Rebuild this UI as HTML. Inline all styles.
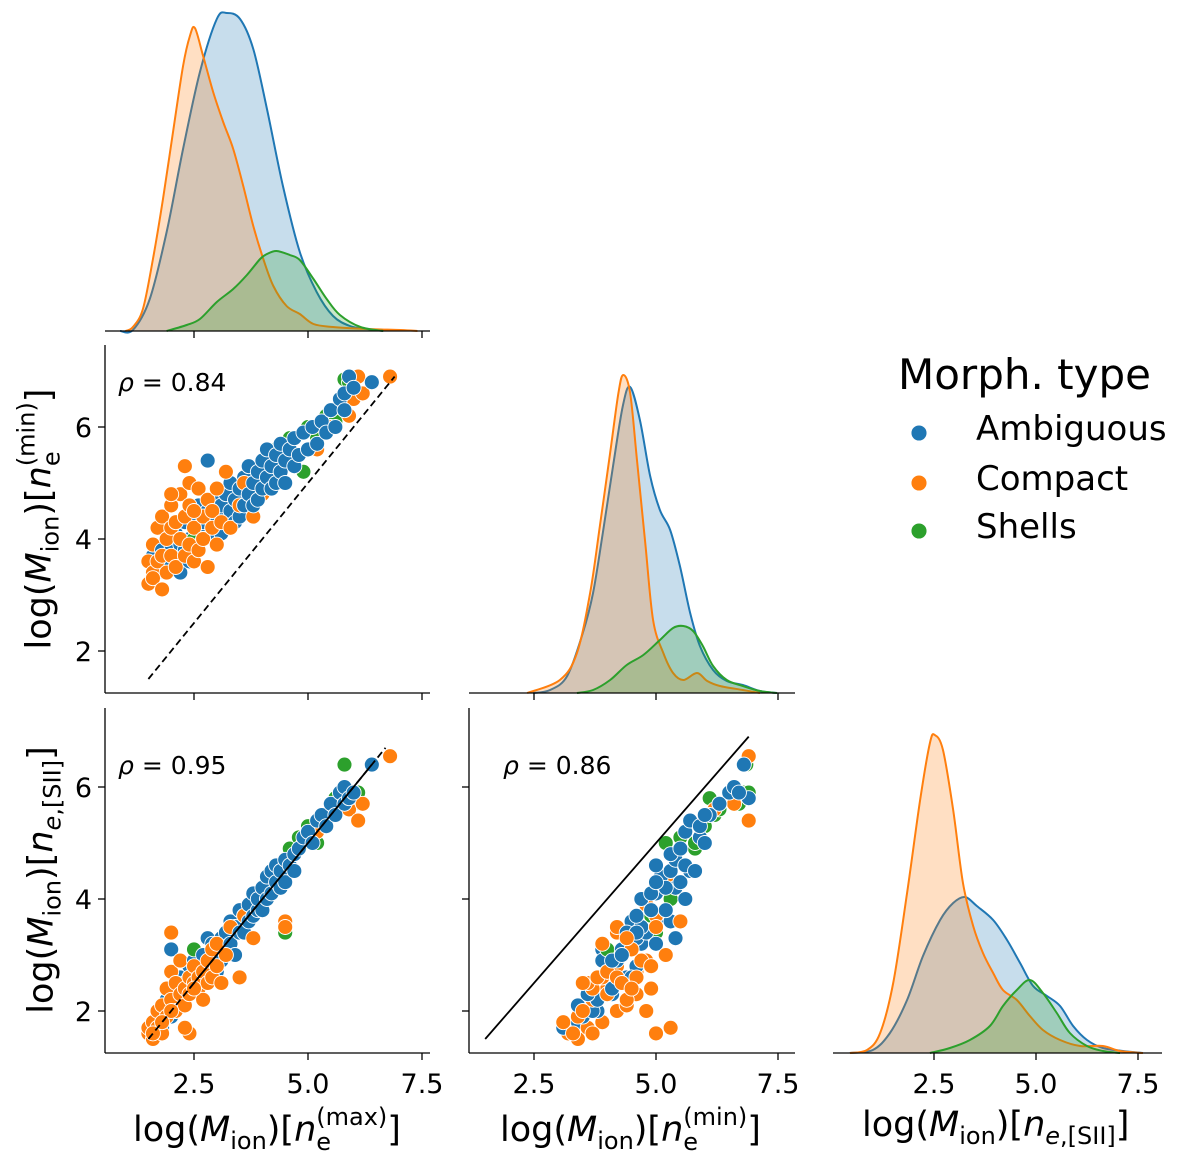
<!DOCTYPE html>
<html><head><meta charset="utf-8">
<style>
html,body{margin:0;padding:0;background:#fff;}
#wrap{position:relative;width:1200px;height:1170px;overflow:hidden;font-family:"DejaVu Sans","Liberation Sans",sans-serif;color:#000;}
svg{position:absolute;left:0;top:0;}
.lab{position:absolute;font-size:35px;white-space:nowrap;line-height:1;}
.lab i{font-style:italic;}
.lab sub{font-size:24px;vertical-align:-8px;line-height:0;}
.st{display:inline-block;position:relative;}
.st .sp{font-size:24px;position:relative;top:-16px;}
.st .sb{font-size:24px;position:absolute;left:0;top:17px;}
</style></head>
<body>
<div id="wrap">
<svg id="chart" width="1200" height="1170"></svg>

<div class="lab" style="left:133px;top:1113px;">log(<i>M</i><sub>ion</sub>)[<i>n</i><span class="st"><span class="sp">(max)</span><span class="sb">e</span></span>]</div>
<div class="lab" style="left:500px;top:1113px;">log(<i>M</i><sub>ion</sub>)[<i>n</i><span class="st"><span class="sp">(min)</span><span class="sb">e</span></span>]</div>
<div class="lab" style="left:862px;top:1108px;">log(<i>M</i><sub>ion</sub>)[<i>n</i><sub><i>e</i>,[SII]</sub>]</div>
<div class="lab" style="left:40px;top:519px;transform:translate(-50%,-50%) rotate(-90deg);">log(<i>M</i><sub>ion</sub>)[<i>n</i><span class="st"><span class="sp">(min)</span><span class="sb">e</span></span>]</div>
<div class="lab" style="left:42px;top:880px;transform:translate(-50%,-50%) rotate(-90deg);">log(<i>M</i><sub>ion</sub>)[<i>n</i><sub><i>e</i>,[SII]</sub>]</div>
</div>

<script>
// ---------- data ----------
const categories = ["Ambiguous","Compact","Shells"];
const colors = ["#1f77b4","#ff7f0e","#2ca02c"];
// triplets: [log M (n_e max), log M (n_e min), log M (n_e SII)]
const ambiguousPts = [[1.6,3.5,1.7],[1.6,3.7,1.6],[1.7,3.4,1.8],[1.8,3.1,1.7],[1.8,3.8,2.0],[1.9,3.6,2.2],[2.0,3.9,3.1],[2.0,3.5,1.9],[2.1,4.1,2.3],[2.1,3.7,2.0],[2.2,3.9,2.6],[2.2,3.4,2.1],[2.3,4.3,2.5],[2.3,3.8,2.2],[2.4,4.0,2.8],[2.4,3.6,2.3],[2.5,4.4,2.6],[2.5,3.9,2.9],[2.6,4.1,2.4],[2.6,4.6,2.8],[2.7,4.0,2.7],[2.7,4.3,3.0],[2.8,5.4,3.3],[2.8,4.5,2.6],[2.9,4.2,2.9],[2.9,4.7,3.2],[3.0,4.4,3.1],[3.0,4.0,2.7],[3.1,4.6,3.3],[3.1,4.1,2.9],[3.2,4.8,3.4],[3.2,4.3,3.1],[3.3,4.5,3.6],[3.3,5.0,3.2],[3.4,4.7,3.5],[3.4,4.3,3.0],[3.5,4.9,3.8],[3.5,4.4,3.4],[3.6,5.1,3.7],[3.6,4.6,3.4],[3.7,4.8,3.9],[3.7,5.3,3.6],[3.8,4.6,3.7],[3.8,5.0,4.1],[3.9,5.2,3.8],[3.9,4.7,4.0],[4.0,5.4,4.2],[4.0,4.9,3.8],[4.1,5.1,4.4],[4.1,5.6,4.0],[4.2,4.9,4.1],[4.2,5.3,4.5],[4.3,5.5,4.3],[4.3,5.0,4.6],[4.4,5.2,4.2],[4.4,5.7,4.5],[4.5,5.4,4.7],[4.5,5.0,4.3],[4.6,5.6,4.6],[4.7,5.3,4.8],[4.7,5.8,4.5],[4.8,5.5,4.9],[4.9,5.9,5.1],[5.0,5.6,5.2],[5.1,6.0,5.0],[5.2,5.7,5.4],[5.3,6.1,5.5],[5.4,5.9,5.3],[5.5,6.3,5.7],[5.6,6.0,5.5],[5.7,6.5,5.9],[5.8,6.6,6.0],[5.8,6.3,5.7],[5.9,6.9,5.8],[6.0,6.7,5.9],[6.4,6.8,6.4]];
const compactPts = [[1.5,3.2,1.6],[1.5,3.6,1.7],[1.6,3.9,1.8],[1.6,3.4,1.5],[1.7,4.2,2.0],[1.7,3.6,1.7],[1.8,3.7,1.6],[1.8,4.4,2.1],[1.9,3.4,1.9],[1.9,4.0,2.4],[2.0,4.6,2.7],[2.0,3.7,2.2],[2.0,4.2,3.4],[2.1,4.3,2.5],[2.1,3.5,2.0],[2.2,4.0,2.3],[2.2,4.8,2.9],[2.3,3.7,2.4],[2.3,4.4,2.1],[2.4,3.9,2.6],[2.4,4.6,2.3],[2.4,5.0,1.6],[2.5,3.6,2.5],[2.5,4.2,2.8],[2.6,4.9,2.4],[2.6,3.8,2.6],[2.7,4.4,2.2],[2.7,4.0,2.7],[2.8,3.5,2.5],[2.8,4.7,2.9],[2.9,4.2,2.6],[2.9,4.5,3.1],[3.0,3.9,3.2],[3.0,4.9,2.8],[3.1,4.3,2.5],[3.2,5.2,3.0],[3.3,4.2,3.5],[3.5,4.6,2.6],[3.6,5.0,3.7],[3.8,4.4,3.3],[4.0,4.8,3.9],[4.2,5.3,4.3],[4.5,5.5,3.6],[4.5,5.0,3.5],[5.2,5.6,5.2],[5.5,6.0,5.5],[5.9,6.2,5.6],[6.0,6.5,5.9],[6.2,6.6,5.7],[6.8,6.9,6.55],[2.3,5.3,1.7],[1.6,3.3,1.6],[2.0,4.8,2.0],[2.5,4.5,2.4],[1.8,3.1,1.8],[6.1,6.9,5.4]];
const shellsPts = [[4.0,5.3,4.0],[4.3,5.6,4.6],[4.5,5.0,3.4],[4.6,5.8,4.9],[4.8,5.5,5.1],[5.0,6.0,5.3],[5.2,5.8,5.0],[5.4,6.2,5.5],[5.5,6.3,5.6],[5.6,6.1,5.8],[5.8,6.85,6.4],[5.9,6.8,5.9],[6.0,6.7,5.7],[6.1,6.9,5.9],[2.7,4.6,2.8],[3.5,4.9,3.7],[4.4,5.4,4.2],[4.9,5.2,5.0],[2.5,4.0,3.1]];
// KDE curves (x grid, density)
const kdeMaxX = [[0.88,1.16,1.53,1.9,2.26,2.63,3.0,3.22,3.51,3.8,4.1,4.45,4.82,5.19,5.55,5.92,6.3,6.65],[1.0,1.16,1.38,1.6,1.82,2.04,2.26,2.41,2.52,2.7,2.92,3.14,3.36,3.58,3.8,4.02,4.24,4.53,4.82,5.12,5.55,6.3,7.03,7.4],[1.9,2.34,2.63,3.0,3.36,3.66,3.95,4.1,4.31,4.6,4.82,5.12,5.41,5.7,6.15,6.65]];
const kdeMaxD = [[0,0.01,0.32,0.99,1.82,2.59,3.12,3.18,3.12,2.82,2.22,1.45,0.79,0.39,0.15,0.05,0.02,0],[0,0.04,0.22,0.72,1.32,1.99,2.65,2.95,3.03,2.75,2.39,2.09,1.82,1.45,1.05,0.72,0.45,0.25,0.17,0.07,0.04,0.02,0.01,0],[0,0.06,0.12,0.29,0.42,0.56,0.72,0.77,0.80,0.76,0.71,0.52,0.32,0.16,0.04,0]];
const kdeMinX = [[2.48,2.83,3.18,3.5,3.71,3.91,4.12,4.32,4.47,4.67,4.88,5.08,5.29,5.49,5.7,5.9,6.17,6.45,6.78,7.13,7.48],[2.36,3.03,3.38,3.65,3.85,4.06,4.23,4.33,4.47,4.61,4.78,4.94,5.15,5.35,5.56,5.84,6.05,6.31,6.78,7.13],[3.38,3.71,4.06,4.4,4.74,5.08,5.35,5.56,5.76,5.96,6.17,6.45,6.78,7.13,7.48]];
const kdeMinD = [[0,0.03,0.17,0.60,1.00,1.60,2.27,2.87,3.06,2.73,2.17,1.83,1.63,1.27,0.80,0.47,0.23,0.12,0.08,0.02,0],[0,0.13,0.40,1.00,1.67,2.40,3.00,3.18,3.00,2.33,1.50,0.73,0.40,0.20,0.13,0.20,0.12,0.07,0.03,0],[0,0.03,0.13,0.28,0.38,0.53,0.65,0.67,0.62,0.47,0.27,0.13,0.07,0.02,0]];
const kdeSiiX = [[0.44,1.0,1.42,1.84,2.23,2.65,2.97,3.26,3.55,3.95,4.29,4.61,4.93,5.27,5.59,5.91,6.25,6.64,7.13,7.62],[0.44,0.86,1.18,1.5,1.84,2.16,2.4,2.52,2.72,2.97,3.21,3.46,3.7,3.95,4.19,4.53,4.85,5.17,5.59,6.08,6.64,7.06,7.62],[2.4,2.89,3.38,3.87,4.19,4.53,4.85,5.17,5.51,5.83,6.25,6.64,7.06]];
const kdeSiiD = [[0,0.03,0.20,0.53,0.97,1.33,1.50,1.56,1.47,1.33,1.13,0.90,0.67,0.57,0.47,0.27,0.13,0.05,0.02,0],[0,0.03,0.20,0.70,1.60,2.53,3.10,3.18,3.03,2.43,1.70,1.27,1.00,0.80,0.63,0.53,0.37,0.23,0.13,0.07,0.07,0.02,0],[0,0.05,0.13,0.27,0.47,0.63,0.73,0.60,0.40,0.20,0.07,0.02,0]];
const xTicks = [2.5,5.0,7.5];
const xTickLabels = ["2.5","5.0","7.5"];
const yTicks = [2,4,6];
const yTickLabels = ["2","4","6"];
const rhoValues = ["0.84","0.95","0.86"];

// ---------- scales ----------
const colX = [v=>80+45.6*v, v=>412+48.8*v, v=>832+40.8*v];
const rowY = [null, v=>763-56*v, v=>1123-56*v];
const kdeBase = [331,693,1053];
const kdeScale = d=>d*100;

const NS="http://www.w3.org/2000/svg";
const svg=document.getElementById('chart');
function mk(tag,attrs,parent){const e=document.createElementNS(NS,tag);for(const k in attrs)e.setAttribute(k,attrs[k]);(parent||svg).appendChild(e);return e;}

function smoothPath(pts){
  let d=`M${pts[0][0]},${pts[0][1]}`;
  for(let i=0;i<pts.length-1;i++){
    const p0=pts[Math.max(0,i-1)],p1=pts[i],p2=pts[i+1],p3=pts[Math.min(pts.length-1,i+2)];
    const c1=[p1[0]+(p2[0]-p0[0])/6,p1[1]+(p2[1]-p0[1])/6];
    const c2=[p2[0]-(p3[0]-p1[0])/6,p2[1]-(p3[1]-p1[1])/6];
    d+=` C${c1[0]},${c1[1]} ${c2[0]},${c2[1]} ${p2[0]},${p2[1]}`;
  }
  return d;
}

// ---------- axes ----------
function xAxis(col,y,x0,x1,labels,name){
  const g=mk('g',{});
  
  
  mk('line',{x1:x0,y1:y,x2:x1,y2:y,stroke:'#000','stroke-width':1.3},g);
  xTicks.forEach((t,i)=>{
    const x=colX[col](t);
    mk('line',{x1:x,y1:y,x2:x,y2:y+7,stroke:'#000','stroke-width':1.3},g);
    if(labels){const tx=mk('text',{x:x,y:y+40,'text-anchor':'middle','font-size':27},g);tx.textContent=xTickLabels[i];}
  });
}
function yAxis(row,x,y0,y1,labels,name){
  const g=mk('g',{});
  
  
  mk('line',{x1:x,y1:y0,x2:x,y2:y1,stroke:'#000','stroke-width':1.3},g);
  yTicks.forEach((t,i)=>{
    const y=rowY[row](t);
    mk('line',{x1:x-7,y1:y,x2:x,y2:y,stroke:'#000','stroke-width':1.3},g);
    if(labels){const tx=mk('text',{x:x-13,y:y+10,'text-anchor':'end','font-size':27},g);tx.textContent=yTickLabels[i];}
  });
}

// ---------- KDEs ----------
function kde(col,X,D,name){
  const g=mk('g',{});
  
  
  const base=kdeBase[col];
  for(let s=0;s<3;s++){
    const pts=X[s].map((x,i)=>[colX[col](x),base-kdeScale(D[s][i])]);
    const line=smoothPath(pts);
    const area=mk('path',{d:line+` L${pts[pts.length-1][0]},${base} L${pts[0][0]},${base} Z`,fill:colors[s],'fill-opacity':0.25,stroke:'none'},g);
    
    
    const ln=mk('path',{d:line,fill:'none',stroke:colors[s],'stroke-width':2},g);
    
    
  }
}
kde(0,kdeMaxX,kdeMaxD,'kde-max-panel');
kde(1,kdeMinX,kdeMinD,'kde-min-panel');
kde(2,kdeSiiX,kdeSiiD,'kde-sii-panel');

// ---------- scatters ----------
const series=[ambiguousPts,compactPts,shellsPts];
function scatter(col,xi,row,yi,name){
  const g=mk('g',{});
  
  
  const n=Math.max(...series.map(s=>s.length));
  for(let i=0;i<n;i++){
    for(let s=0;s<3;s++){
      const p=series[s][i]; if(!p) continue;
      const c=mk('circle',{cx:colX[col](p[xi]),cy:rowY[row](p[yi]),r:7.5,fill:colors[s],stroke:'#fff','stroke-width':0.9},g);
      
      
    }
  }
}
scatter(0,0,1,1,'scatter-max-vs-min');
scatter(0,0,2,2,'scatter-max-vs-sii');
scatter(1,1,2,2,'scatter-min-vs-sii');

// reference lines
const refLo=1.5, refHi=6.9, refHi2=6.7;
const r1=mk('line',{x1:colX[0](refLo),y1:rowY[1](refLo),x2:colX[0](refHi),y2:rowY[1](refHi),stroke:'#000','stroke-width':1.8,'stroke-dasharray':'7,4'});


const r2=mk('line',{x1:colX[0](refLo),y1:rowY[2](refLo),x2:colX[0](refHi2),y2:rowY[2](refHi2),stroke:'#000','stroke-width':1.8,'stroke-dasharray':'7,4'});


const r2b=mk('line',{x1:colX[0](2.4),y1:rowY[2](2.4),x2:colX[0](6.4),y2:rowY[2](6.4),stroke:'#000','stroke-width':1.8});


const r3=mk('line',{x1:colX[1](refLo),y1:rowY[2](refLo),x2:colX[1](refHi),y2:rowY[2](refHi),stroke:'#000','stroke-width':1.8});



// axes
xAxis(0,331,105,430,false,'x-axis-kde-max');
xAxis(1,693,469,795,false,'x-axis-kde-min');
xAxis(2,1053,833,1162,true,'x-axis-kde-sii');
xAxis(0,693,105,430,false,'x-axis-scatter-max-min');
xAxis(0,1053,105,430,true,'x-axis-scatter-max-sii');
xAxis(1,1053,469,795,true,'x-axis-scatter-min-sii');
yAxis(1,105,345,693,true,'y-axis-scatter-max-min');
yAxis(2,105,708,1053,true,'y-axis-scatter-max-sii');
yAxis(2,469,708,1053,false,'y-axis-scatter-min-sii');

// rho annotations
const rhoPos=[[118,391],[118,774],[503,774]];
rhoValues.forEach((t,i)=>{
  const tx=mk('text',{x:rhoPos[i][0],y:rhoPos[i][1],'font-size':25});
  const a=mk('tspan',{'font-style':'italic'},tx); a.textContent='ρ';
  const b=mk('tspan',{},tx); b.textContent=' = '+t;
  
  
});

// legend
const lg=mk('g',{});


const lt=mk('text',{x:898,y:389,'font-size':42},lg);
lt.textContent='Morph. type';


const legY=[440,490,538];
categories.forEach((c,i)=>{
  const m=mk('circle',{cx:919,cy:legY[i]-7,r:8,fill:colors[i],stroke:'#fff','stroke-width':0.9},lg);
  
  
  const t=mk('text',{x:976,y:legY[i],'font-size':34},lg);
  t.textContent=c;
  
  
});
</script>
</body></html>
